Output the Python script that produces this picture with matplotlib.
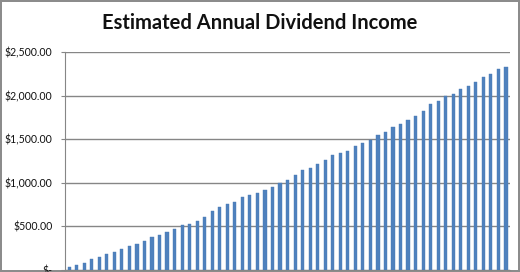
import matplotlib
matplotlib.use('Agg')
import matplotlib.pyplot as plt
import numpy as np
from matplotlib.ticker import FuncFormatter

plt.rcParams['font.family'] = ['Lato', 'DejaVu Sans']

# 估计的每年股息收入（美元），共59期
income = [31, 58, 85, 128, 144, 184, 212, 245, 270, 304,
          337, 375, 404, 440, 473, 513, 531, 565, 604, 683,
          725, 754, 785, 838, 856, 886, 915, 958, 1000, 1035,
          1096, 1146, 1177, 1222, 1268, 1319, 1338, 1369, 1419, 1462,
          1496, 1546, 1581, 1642, 1681, 1719, 1769, 1831, 1904, 1942,
          1996, 2025, 2075, 2116, 2162, 2214, 2246, 2304, 2334]
y_ticks = [0, 500, 1000, 1500, 2000, 2500]
title = 'Estimated Annual Dividend Income'


def money(v, pos=None):
    if v == 0:
        return '$-'
    return f'${v:,.2f}'


fig = plt.figure(figsize=(5.2, 2.72), dpi=100)
fig.patch.set_edgecolor('#8c8c8c')
fig.patch.set_linewidth(1.5)
ax = fig.add_axes([0.125, 0.0074, 0.856, 0.8003])

x = np.arange(len(income))
ax.bar(x, income, width=0.42, color='#4F81BD', edgecolor='#4a7bb5', linewidth=0.3, zorder=3)

ax.set_xlim(-0.55, len(income) - 0.45)
ax.set_ylim(0, 2500)
ax.set_yticks(y_ticks)
ax.yaxis.set_major_formatter(FuncFormatter(money))
ax.set_xticks([])

# 网格线和坐标轴
ax.grid(True, axis='y', color='#868686', linewidth=1.0, zorder=0)
for s in ['top', 'right']:
    ax.spines[s].set_visible(False)
ax.spines['left'].set_color('#868686')
ax.spines['bottom'].set_color('#868686')
ax.tick_params(axis='y', length=3, color='#868686', labelsize=7.6, pad=6, labelcolor='#111111')

fig.text(0.5, 0.915, title, ha='center', va='center', fontsize=14.5, fontweight='bold', color='#111111')

fig.savefig('out.png', dpi=100)
